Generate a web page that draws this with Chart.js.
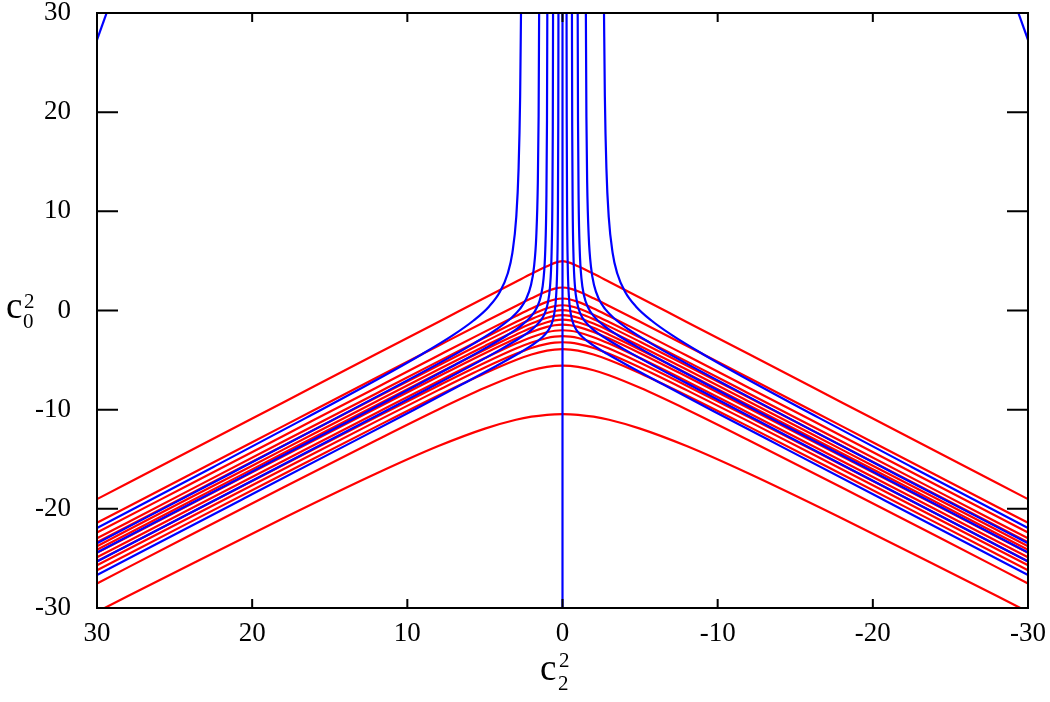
<!DOCTYPE html>
<html>
<head>
<meta charset="utf-8">
<script src="https://cdn.jsdelivr.net/npm/chart.js@4/dist/chart.umd.min.js"></script>
<style>
  html, body { margin: 0; padding: 0; background: #fff; }
  #wrap { width: 1050px; height: 702px; position: relative; }
</style>
</head>
<body>
<div id="wrap"><canvas id="c" width="1050" height="702"></canvas></div>
<script>
// ---- tick labels ----
const xTicks = [30, 20, 10, 0, -10, -20, -30];
const yTicks = [-30, -20, -10, 0, 10, 20, 30];

// ---- red curves: values at x = redX (symmetric about x = 0) ----
const redX = [0, 0.5, 1, 2, 3, 5, 8, 12, 18, 24, 30];
const red1  = [4.97, 4.80, 4.46, 3.70, 2.90, 1.29, -1.15, -4.39, -9.27, -14.15, -19.02];
const red2  = [2.32, 2.21, 1.94, 1.23, 0.46, -1.13, -3.55, -6.79, -11.66, -16.53, -21.41];
const red3  = [1.21, 1.11, 0.87, 0.20, -0.56, -2.13, -4.54, -7.78, -12.65, -17.52, -22.39];
const red4  = [0.53, 0.44, 0.22, -0.42, -1.16, -2.73, -5.13, -8.36, -13.22, -18.09, -22.97];
const red5  = [0.03, -0.05, -0.26, -0.87, -1.60, -3.15, -5.54, -8.77, -13.63, -18.50, -23.37];
const red6  = [-0.47, -0.54, -0.73, -1.32, -2.03, -3.57, -5.95, -9.17, -14.03, -18.89, -23.77];
const red7  = [-0.93, -1.00, -1.18, -1.74, -2.44, -3.95, -6.33, -9.54, -14.40, -19.26, -24.13];
const red8  = [-1.43, -1.49, -1.65, -2.17, -2.83, -4.31, -6.66, -9.86, -14.71, -19.56, -24.43];
const red9  = [-1.99, -2.04, -2.19, -2.69, -3.33, -4.80, -7.13, -10.33, -15.17, -20.02, -24.89];
const red10 = [-2.59, -2.64, -2.77, -3.23, -3.84, -5.27, -7.58, -10.75, -15.58, -20.43, -25.29];
const red11 = [-3.20, -3.24, -3.36, -3.78, -4.37, -5.75, -8.03, -11.18, -16.00, -20.84, -25.70];
const red12 = [-3.90, -3.94, -4.05, -4.44, -4.99, -6.33, -8.57, -11.71, -16.51, -21.34, -26.20];
const red13 = [-5.56, -5.59, -5.69, -6.03, -6.53, -7.80, -9.98, -13.08, -17.85, -22.67, -27.52];
const red14 = [-10.45, -10.47, -10.52, -10.71, -11.02, -11.91, -13.67, -16.44, -20.95, -25.63, -30.39];
const redCurves = [red1, red2, red3, red4, red5, red6, red7, red8, red9, red10, red11, red12, red13, red14];

// ---- blue curves (x > 0 branch; mirrored for x < 0) ----
const blue1X = [2.67, 2.73, 2.83, 2.98, 3.23, 3.53, 4.03, 4.73, 5.73, 7.03, 9.03, 12.03, 16.53, 22.53, 30];
const blue1Y = [30.84, 21.58, 14.33, 9.43, 5.82, 3.73, 1.89, 0.41, -1.01, -2.46, -4.38, -7.03, -10.83, -15.80, -21.93];
const blue2X = [1.505, 1.54, 1.59, 1.69, 1.84, 2.04, 2.34, 2.74, 3.34, 4.24, 5.64, 7.74, 10.94, 15.44, 21.44, 30];
const blue2Y = [30.40, 19.60, 12.89, 7.48, 4.35, 2.52, 1.17, 0.16, -0.81, -1.88, -3.26, -5.13, -7.83, -11.56, -16.48, -23.47];
const blue3X = [0.978, 1.00, 1.04, 1.11, 1.22, 1.39, 1.64, 2.04, 2.64, 3.54, 4.94, 6.94, 9.94, 14.44, 20.94, 30];
const blue3Y = [30.73, 19.14, 11.10, 6.11, 3.24, 1.49, 0.33, -0.62, -1.49, -2.47, -3.77, -5.49, -8.00, -11.70, -17.01, -24.40];
const blue4X = [0.608, 0.625, 0.655, 0.71, 0.80, 0.94, 1.15, 1.48, 1.98, 2.78, 3.98, 5.78, 8.58, 12.58, 18.58, 30];
const blue4Y = [30.70, 18.54, 10.52, 5.40, 2.49, 0.79, -0.31, -1.15, -1.92, -2.80, -3.92, -5.48, -7.81, -11.10, -16.01, -25.31];
const blue5X = [0.261, 0.272, 0.295, 0.34, 0.41, 0.52, 0.69, 0.94, 1.34, 1.94, 2.84, 4.24, 6.44, 9.74, 14.24, 20.74, 30];
const blue5Y = [30.82, 19.35, 10.19, 4.42, 1.48, -0.22, -1.31, -2.06, -2.75, -3.47, -4.34, -5.57, -7.42, -10.15, -13.83, -19.13, -26.67];
const blueBranches = [[blue1X, blue1Y], [blue2X, blue2Y], [blue3X, blue3Y], [blue4X, blue4Y], [blue5X, blue5Y]];
// central vertical blue line and the corner pieces
const blueCenterX = [0, 0];
const blueCenterY = [-30, 30];
const blueCornerX = [29.38, 30];
const blueCornerY = [30, 27.3];

const RED = '#ff0000', BLUE = '#0000ff';

function pts(xs, ys, sign) {
  return xs.map((x, i) => ({ x: sign * x, y: ys[i] }));
}

const datasets = [];
const baseLine = { showLine: true, pointRadius: 0, borderWidth: 2.2, fill: false, clip: 0 };

// blues first so they sit on top
blueBranches.forEach(([bx, by]) => {
  datasets.push(Object.assign({}, baseLine, { data: pts(bx, by, 1), borderColor: BLUE, cubicInterpolationMode: 'monotone' }));
  datasets.push(Object.assign({}, baseLine, { data: pts(bx, by, -1), borderColor: BLUE, cubicInterpolationMode: 'monotone' }));
});
datasets.push(Object.assign({}, baseLine, { data: pts(blueCenterX, blueCenterY, 1), borderColor: BLUE, tension: 0 }));
datasets.push(Object.assign({}, baseLine, { data: pts(blueCornerX, blueCornerY, 1), borderColor: BLUE, tension: 0 }));
datasets.push(Object.assign({}, baseLine, { data: pts(blueCornerX, blueCornerY, -1), borderColor: BLUE, tension: 0 }));

redCurves.forEach(rc => {
  const data = [];
  redX.forEach((x, i) => { data.push({ x: x, y: rc[i] }); if (x !== 0) data.push({ x: -x, y: rc[i] }); });
  data.sort((a, b) => a.x - b.x);
  datasets.push(Object.assign({}, baseLine, { data: data, borderColor: RED, cubicInterpolationMode: 'monotone' }));
});

const FONT = '"Liberation Serif", "Times New Roman", serif';

const framePlugin = {
  id: 'frame',
  afterDatasetsDraw(chart) {
    const { ctx, chartArea: a, scales: { x, y } } = chart;
    ctx.save();
    ctx.strokeStyle = '#000';
    ctx.lineWidth = 2;
    ctx.beginPath();
    xTicks.forEach(v => {
      const px = x.getPixelForValue(v);
      ctx.moveTo(px, a.bottom); ctx.lineTo(px, a.bottom - 9);
      ctx.moveTo(px, a.top); ctx.lineTo(px, a.top + 9);
    });
    yTicks.forEach(v => {
      const py = y.getPixelForValue(v);
      ctx.moveTo(a.left, py); ctx.lineTo(a.left + 21, py);
      ctx.moveTo(a.right, py); ctx.lineTo(a.right - 21, py);
    });
    ctx.stroke();
    ctx.strokeRect(a.left, a.top, a.right - a.left, a.bottom - a.top);

    // axis titles: c with stacked sub/superscripts
    ctx.fillStyle = '#000';
    ctx.textBaseline = 'alphabetic';
    ctx.textAlign = 'left';
    // y title: c_0^2
    ctx.font = '37px ' + FONT;
    ctx.fillText('c', 6, 318);
    ctx.font = '21px ' + FONT;
    ctx.fillText('2', 24, 308);
    ctx.fillText('0', 23, 328);
    // x title: c_2^2
    ctx.font = '37px ' + FONT;
    ctx.fillText('c', 540, 680);
    ctx.font = '21px ' + FONT;
    ctx.fillText('2', 559, 667);
    ctx.fillText('2', 558, 690);
    ctx.restore();
  }
};

new Chart(document.getElementById('c'), {
  type: 'scatter',
  data: { datasets },
  options: {
    responsive: false,
    animation: false,
    events: [],
    layout: { padding: { top: 13, right: 22, left: 0, bottom: 0 } },
    plugins: { legend: { display: false }, tooltip: { enabled: false } },
    scales: {
      x: {
        type: 'linear', min: -30, max: 30, reverse: true,
        grid: { display: false, drawTicks: false }, border: { display: false },
        afterBuildTicks: s => { s.ticks = xTicks.map(v => ({ value: v })); },
        afterFit: s => { s.height = 94; s.paddingLeft = 0; s.paddingRight = 0; },
        ticks: { color: '#000', padding: 12, maxRotation: 0, autoSkip: false,
                 font: { family: FONT, size: 27, lineHeight: 1 } }
      },
      y: {
        type: 'linear', min: -30, max: 30,
        grid: { display: false, drawTicks: false }, border: { display: false },
        afterBuildTicks: s => { s.ticks = yTicks.map(v => ({ value: v })); },
        afterFit: s => { s.width = 97; s.paddingTop = 0; s.paddingBottom = 0; },
        ticks: { color: '#000', padding: 26, autoSkip: false,
                 font: { family: FONT, size: 27, lineHeight: 1 } }
      }
    }
  },
  plugins: [framePlugin]
});
</script>
</body>
</html>
